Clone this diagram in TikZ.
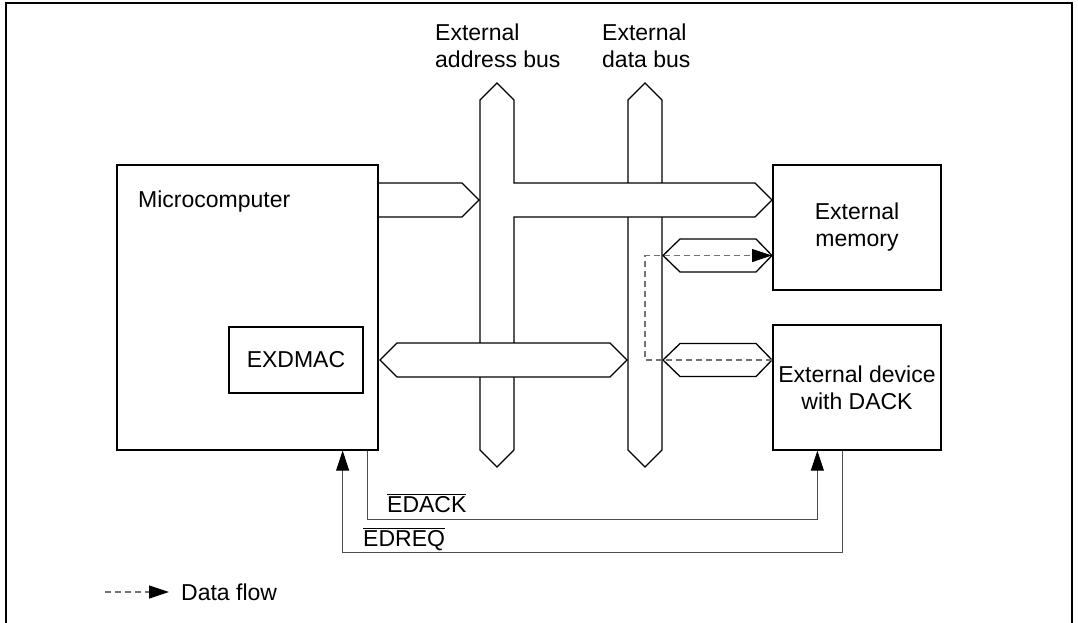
\documentclass[tikz,border=0pt]{standalone}
\usepackage{fontspec}
\setmainfont{Liberation Sans}
\usetikzlibrary{arrows.meta,positioning}

\begin{document}
\begin{tikzpicture}[x=1pt, y=-1pt,
    every node/.style={font=\fontsize{23}{27}\selectfont, inner sep=0pt},
    box/.style={draw, line width=1.3pt},
    bus/.style={draw, line width=1.3pt, fill=white},
    sig/.style={draw=black!70, line width=0.9pt, -{Triangle[length=20pt,width=13pt,color=black]}},
    flow/.style={draw=black!55, line width=1.2pt, dash pattern=on 6pt off 4pt,
      -{Triangle[length=20pt,width=13pt,color=black]}}]
  \useasboundingbox (0,0) rectangle (1078,623);
  \draw[line width=2pt] (6,623) -- (6,3) -- (1072,3) -- (1072,623);

  % buses
  \draw[bus] (645,83) -- (662,100) -- (662,450) -- (645,467) -- (628,450) -- (628,100) -- cycle;
  \draw[bus] (497,83) -- (514,100) -- (514,183) -- (755,183) -- (772,200) -- (755,217)
    -- (514,217) -- (514,450) -- (497,467) -- (480,450) -- (480,100) -- cycle;
  \draw[bus] (378,183) -- (462,183) -- (479,200) -- (462,217) -- (378,217);
  \draw[bus] (380,360) -- (397,343) -- (610,343) -- (627,360) -- (610,377) -- (397,377) -- cycle;
  \foreach \y in {255.5,360}
    \draw[bus] (663,\y) -- (680,\y-16.5) -- (756,\y-16.5) -- (772,\y) -- (756,\y+16.5) -- (680,\y+16.5) -- cycle;

  % blocks
  \node[box, minimum width=261pt, minimum height=285pt] (micro) at (247.5,307.5) {};
  \node[anchor=base west] (microlbl) at (138,207) {Microcomputer};
  \node[box, minimum width=134pt, minimum height=66pt] (exdmac) at (296,360) {EXDMAC};
  \node[box, minimum width=168pt, minimum height=125pt, align=center] (mem) at (857,227.5) {External\\memory};
  \node[box, minimum width=168pt, minimum height=125pt, align=center] (dev) at (857,387.5) {External device\\with DACK};

  \node[anchor=north west, align=left] (abuslbl) at (435,24) {External\\address bus};
  \node[anchor=north west, align=left] (dbuslbl) at (602,24) {External\\data bus};

  % data flow
  \coordinate (fdev) at (772,360);
  \coordinate (fmem) at (772,255.5);
  \draw[flow] (fdev) -- (645,360) -- (645,255.5) -- (fmem);

  % handshake
  \draw[sig] ([xshift=-11pt]micro.south east) -- ++(0,69) -| ([xshift=45pt]dev.south west);
  \draw[sig] ([xshift=70pt]dev.south west) -- ++(0,102) -| ([xshift=-36pt]micro.south east);
  \node[anchor=base west] (edack) at (387,512) {$\overline{\mbox{EDACK}}$};
  \node[anchor=base west] (edreq) at (363,546) {$\overline{\mbox{EDREQ}}$};

  % legend
  \coordinate (lgs) at (105,592);
  \node[anchor=west] (lgtxt) at (181,592) {Data flow};
  \draw[flow] (lgs) -- ([xshift=-12pt]lgtxt.west);
\end{tikzpicture}
\end{document}
